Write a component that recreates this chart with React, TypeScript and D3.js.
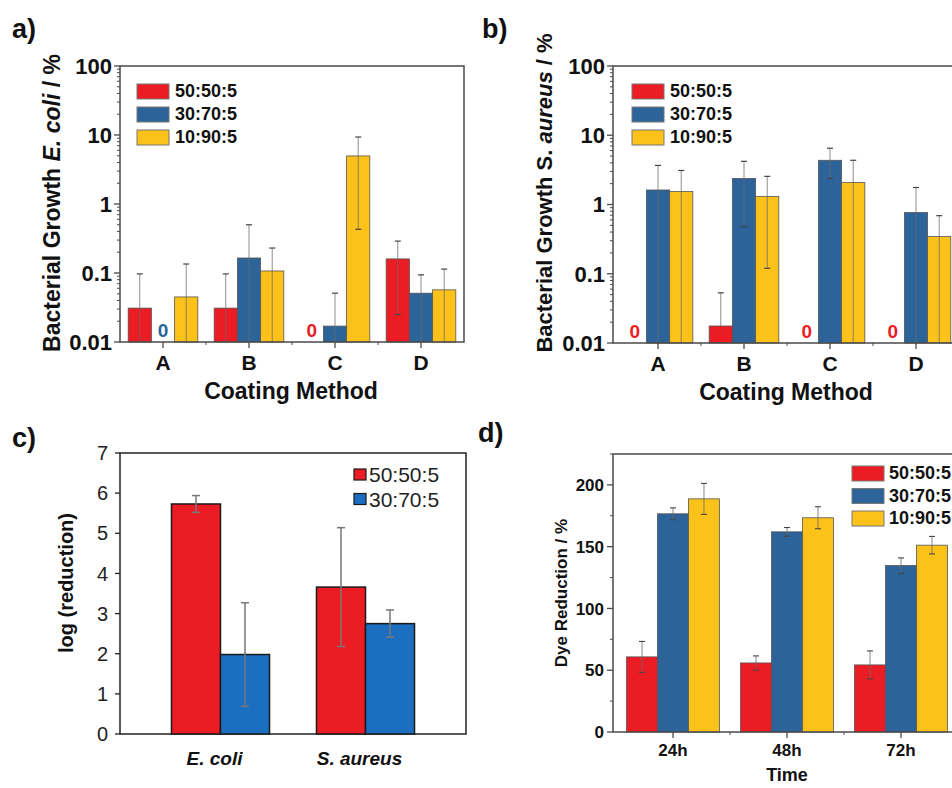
import React from 'react';
import * as d3 from 'd3';

const FONT = "'Liberation Sans', Arial, Helvetica, sans-serif";
const RED = '#EC1C24';
const BLUE = '#2C6399';
const YELLOW = '#FCC21A';
const BLUE_C = '#1C6EC0';
const AXIS = '#4a4a4a';
const ERR = '#6a6a6a';

// ---------- data ----------
const coatingMethods = ['A', 'B', 'C', 'D'];
const ratioLabels = ['50:50:5', '30:70:5', '10:90:5'];
const logTicks = [0.01, 0.1, 1, 10, 100];
const logTickLabels = ['0.01', '0.1', '1', '10', '100'];

// Panel a – E. coli growth (%); 0 = no growth (printed as "0")
const ecoli50 = [0.031, 0.031, 0, 0.16];
const ecoli30 = [0, 0.165, 0.017, 0.051];
const ecoli10 = [0.045, 0.107, 4.97, 0.057];
const ecoli50Hi = [0.097, 0.097, 0, 0.29];
const ecoli50Lo = [0.001, 0.001, 0, 0.025];
const ecoli30Hi = [0, 0.5, 0.051, 0.094];
const ecoli30Lo = [0, 0.001, 0.001, 0.001];
const ecoli10Hi = [0.135, 0.23, 9.35, 0.114];
const ecoli10Lo = [0.001, 0.001, 0.43, 0.001];

// Panel b – S. aureus growth (%)
const saureus50 = [0, 0.0176, 0, 0];
const saureus30 = [1.62, 2.38, 4.35, 0.766];
const saureus10 = [1.54, 1.31, 2.08, 0.344];
const saureus50Hi = [0, 0.053, 0, 0];
const saureus50Lo = [0, 0.0176, 0, 0];
const saureus30Hi = [3.67, 4.2, 6.5, 1.76];
const saureus30Lo = [0.001, 0.48, 2.38, 0.001];
const saureus10Hi = [3.1, 2.55, 4.35, 0.69];
const saureus10Lo = [0.001, 0.12, 0.001, 0.001];

// Panel c – log reduction
const species = ['E. coli', 'S. aureus'];
const logRed50 = [5.73, 3.66];
const logRed30 = [1.98, 2.75];
const logRed50Err = [0.21, 1.48];
const logRed30Err = [1.29, 0.34];
const linTicksC = [0, 1, 2, 3, 4, 5, 6, 7];

// Panel d – dye reduction (%)
const times = ['24h', '48h', '72h'];
const dye50 = [60.8, 55.9, 54.3];
const dye30 = [176.6, 162, 134.7];
const dye10 = [188.7, 173.4, 151.2];
const dye50Err = [12.5, 5.7, 11.3];
const dye30Err = [4.8, 3.5, 6.2];
const dye10Err = [12.5, 8.9, 7.1];
const dyeTicks = [0, 50, 100, 150, 200];
const dyeMinorTicks = [25, 75, 125, 175, 225];

type Series = { name: string; color: string; values: number[]; hi: number[]; lo: number[] };

function LogPanel(props: {
  left: number; right: number; top: number; bottom: number;
  bandRange: [number, number];
  series: Series[];
  legendX: number; legendY: number;
  titleX: number; titleY: number; titleSize: number; titleNodes: React.ReactNode;
  xLabelX: number;
}) {
  const { left, right, top, bottom, bandRange, series } = props;
  const y = d3.scaleLog().domain([0.01, 100]).range([bottom, top]);
  const x = d3.scaleBand<string>().domain(coatingMethods).range(bandRange).padding(0);
  const inner = d3.scaleBand<string>().domain(series.map(s => s.name)).range([0, x.bandwidth() * 0.81]);
  const groupOff = (x.bandwidth() - x.bandwidth() * 0.81) / 2;
  const minor: number[] = [];
  for (let e = -2; e < 2; e++) for (let k = 2; k <= 9; k++) minor.push(k * Math.pow(10, e));
  const bw = inner.bandwidth();
  return (
    <g fontFamily={FONT}>
      {series.map(s => coatingMethods.map((c, i) => {
        const v = s.values[i];
        const bx = (x(c) as number) + groupOff + (inner(s.name) as number);
        if (v <= 0) {
          return (
            <text key={s.name + c} x={bx + bw / 2} y={bottom - 5} textAnchor="middle" fontSize={19} fontWeight="bold" fill={s.color}>0</text>
          );
        }
        return (
          <rect key={s.name + c} x={bx} y={y(v)} width={bw} height={bottom - y(v)} fill={s.color} stroke="#555" strokeWidth={0.8} />
        );
      }))}
      {series.map(s => coatingMethods.map((c, i) => {
        const v = s.values[i];
        if (v <= 0 || s.hi[i] <= 0) return null;
        const cx = (x(c) as number) + groupOff + (inner(s.name) as number) + bw / 2;
        const hiY = y(s.hi[i]);
        const loClip = s.lo[i] < 0.01;
        const loY = loClip ? bottom : y(s.lo[i]);
        return (
          <g key={'e' + s.name + c}>
            <line x1={cx} x2={cx} y1={hiY} y2={loY} stroke={ERR} strokeWidth={1} opacity={0.75} />
            <line x1={cx - 3} x2={cx + 3} y1={hiY} y2={hiY} stroke="#444" strokeWidth={1.2} />
            {!loClip && s.lo[i] < v && <line x1={cx - 3} x2={cx + 3} y1={loY} y2={loY} stroke="#444" strokeWidth={1.2} />}
          </g>
        );
      }))}
      <rect x={left} y={top} width={right - left} height={bottom - top} fill="none" stroke={AXIS} strokeWidth={1.5} />
      {logTicks.map((t, i) => (
        <g key={'yt' + t}>
          <line x1={left - 6} x2={left} y1={y(t)} y2={y(t)} stroke={AXIS} strokeWidth={1.3} />
          <text x={left - 8} y={y(t)} dy="0.36em" textAnchor="end" fontSize={22} fontWeight="bold" fill="#111">{logTickLabels[i]}</text>
        </g>
      ))}
      {minor.map(t => (
        <line key={'ym' + t} x1={left - 3} x2={left} y1={y(t)} y2={y(t)} stroke={AXIS} strokeWidth={1} />
      ))}
      {coatingMethods.map(c => {
        const cx = (x(c) as number) + x.bandwidth() / 2;
        return (
          <g key={'xt' + c}>
            <line x1={cx} x2={cx} y1={bottom} y2={bottom + 6} stroke={AXIS} strokeWidth={1.3} />
            <text x={cx} y={bottom + 28} textAnchor="middle" fontSize={21} fontWeight="bold" fill="#111">{c}</text>
          </g>
        );
      })}
      {coatingMethods.slice(1).map(c => {
        const bx = x(c) as number;
        return <line key={'xm' + c} x1={bx} x2={bx} y1={bottom} y2={bottom + 3} stroke={AXIS} strokeWidth={1} />;
      })}
      <text x={props.xLabelX} y={bottom + 57} textAnchor="middle" fontSize={23} fontWeight="bold" fill="#111">Coating Method</text>
      <text transform={`translate(${props.titleX},${props.titleY}) rotate(-90)`} textAnchor="middle" dy="0.35em" fontSize={props.titleSize} fontWeight="bold" fill="#111">{props.titleNodes}</text>
      {series.map((s, i) => (
        <g key={'lg' + s.name} transform={`translate(${props.legendX},${props.legendY + i * 23})`}>
          <rect x={0} y={0} width={32} height={15} fill={s.color} stroke="#777" strokeWidth={1} />
          <text x={38} y={13} fontSize={18} fontWeight="bold" fill="#111">{s.name}</text>
        </g>
      ))}
    </g>
  );
}

function PanelC() {
  const left = 120, right = 466, top = 453, bottom = 734;
  const y = d3.scaleLinear().domain([0, 7]).range([bottom, top]);
  const x = d3.scaleBand<string>().domain(species).range([left, right]).paddingInner(0.324).paddingOuter(0.355);
  const inner = d3.scaleBand<string>().domain(['50:50:5', '30:70:5']).range([0, x.bandwidth()]);
  const ser = [
    { name: '50:50:5', color: RED, values: logRed50, err: logRed50Err },
    { name: '30:70:5', color: BLUE_C, values: logRed30, err: logRed30Err },
  ];
  return (
    <g fontFamily={FONT}>
      <rect x={left} y={top} width={right - left} height={bottom - top} fill="none" stroke="#222" strokeWidth={1.5} />
      {ser.map(s => species.map((c, i) => {
        const bx = (x(c) as number) + (inner(s.name) as number);
        const v = s.values[i];
        return <rect key={s.name + c} x={bx} y={y(v)} width={inner.bandwidth()} height={bottom - y(v)} fill={s.color} stroke="#1a1a1a" strokeWidth={1.5} />;
      }))}
      {ser.map(s => species.map((c, i) => {
        const cx = (x(c) as number) + (inner(s.name) as number) + inner.bandwidth() / 2;
        const v = s.values[i];
        const hy = y(v + s.err[i]);
        const ly = y(v - s.err[i]);
        return (
          <g key={'e' + s.name + c} stroke="#777" strokeWidth={1.5}>
            <line x1={cx} x2={cx} y1={hy} y2={ly} />
            <line x1={cx - 4} x2={cx + 4} y1={hy} y2={hy} />
            <line x1={cx - 4} x2={cx + 4} y1={ly} y2={ly} />
          </g>
        );
      }))}
      {linTicksC.map(t => (
        <g key={'t' + t}>
          <line x1={left - 5} x2={left} y1={y(t)} y2={y(t)} stroke="#222" strokeWidth={1.3} />
          <text x={108} y={y(t)} dy="0.36em" textAnchor="end" fontSize={20} fill="#222">{t}</text>
        </g>
      ))}
      {species.map(c => (
        <text key={'xl' + c} x={(x(c) as number) + x.bandwidth() / 2 - 6} y={765} textAnchor="middle" fontSize={19} fontWeight="bold" fontStyle="italic" fill="#111">{c}</text>
      ))}
      <text transform="translate(66,583) rotate(-90)" textAnchor="middle" dy="0.35em" fontSize={20} fontWeight="bold" fill="#111">log (reduction)</text>
      {ser.map((s, i) => (
        <g key={'lg' + s.name} transform={`translate(354,${469 + i * 24.5})`}>
          <rect x={0} y={0} width={12} height={11} fill={s.color} stroke="#1a1a1a" strokeWidth={1.2} />
          <text x={15} y={13} fontSize={21} fill="#222">{s.name}</text>
        </g>
      ))}
    </g>
  );
}

function PanelD() {
  const left = 613, right = 958, top = 454, bottom = 732;
  const y = d3.scaleLinear().domain([0, 225]).range([bottom, top]);
  const x = d3.scaleBand<string>().domain(times).range([616, 958]).padding(0);
  const gw = x.bandwidth() * 0.815;
  const off = (x.bandwidth() - gw) / 2;
  const inner = d3.scaleBand<string>().domain(ratioLabels).range([0, gw]);
  const ser = [
    { name: ratioLabels[0], color: RED, values: dye50, err: dye50Err },
    { name: ratioLabels[1], color: BLUE, values: dye30, err: dye30Err },
    { name: ratioLabels[2], color: YELLOW, values: dye10, err: dye10Err },
  ];
  return (
    <g fontFamily={FONT}>
      {ser.map(s => times.map((c, i) => {
        const bx = (x(c) as number) + off + (inner(s.name) as number);
        const v = s.values[i];
        return <rect key={s.name + c} x={bx} y={y(v)} width={inner.bandwidth()} height={bottom - y(v)} fill={s.color} stroke="#555" strokeWidth={0.8} />;
      }))}
      {ser.map(s => times.map((c, i) => {
        const cx = (x(c) as number) + off + (inner(s.name) as number) + inner.bandwidth() / 2;
        const v = s.values[i];
        const hy = y(v + s.err[i]);
        const ly = y(v - s.err[i]);
        return (
          <g key={'e' + s.name + c}>
            <line x1={cx} x2={cx} y1={hy} y2={ly} stroke={ERR} strokeWidth={1} opacity={0.8} />
            <line x1={cx - 3} x2={cx + 3} y1={hy} y2={hy} stroke="#444" strokeWidth={1.1} />
            <line x1={cx - 3} x2={cx + 3} y1={ly} y2={ly} stroke="#444" strokeWidth={1.1} />
          </g>
        );
      }))}
      <rect x={left} y={top} width={right - left} height={bottom - top} fill="none" stroke={AXIS} strokeWidth={1.5} />
      {dyeTicks.map(t => (
        <g key={'t' + t}>
          <line x1={left - 6} x2={left} y1={y(t)} y2={y(t)} stroke={AXIS} strokeWidth={1.3} />
          <text x={604} y={y(t)} dy="0.36em" textAnchor="end" fontSize={17} fontWeight="bold" fill="#111">{t}</text>
        </g>
      ))}
      {dyeMinorTicks.map(t => (
        <line key={'m' + t} x1={left - 3} x2={left} y1={y(t)} y2={y(t)} stroke={AXIS} strokeWidth={1} />
      ))}
      {times.map(c => {
        const cx = (x(c) as number) + x.bandwidth() / 2;
        return (
          <g key={'xt' + c}>
            <line x1={cx} x2={cx} y1={bottom} y2={bottom + 6} stroke={AXIS} strokeWidth={1.3} />
            <text x={cx} y={756} textAnchor="middle" fontSize={17} fontWeight="bold" fill="#111">{c}</text>
          </g>
        );
      })}
      {times.slice(1).map(c => {
        const bx = x(c) as number;
        return <line key={'xm' + c} x1={bx} x2={bx} y1={bottom} y2={bottom + 3} stroke={AXIS} strokeWidth={1} />;
      })}
      <text x={787} y={781} textAnchor="middle" fontSize={18} fontWeight="bold" fill="#111">Time</text>
      <text transform="translate(561,593) rotate(-90)" textAnchor="middle" dy="0.35em" fontSize={17} fontWeight="bold" fill="#111">Dye Reduction / %</text>
      {ser.map((s, i) => (
        <g key={'lg' + s.name} transform={`translate(852,${466 + i * 22.5})`}>
          <rect x={0} y={0} width={32} height={15} fill={s.color} stroke="#777" strokeWidth={1} />
          <text x={37} y={13} fontSize={18} fontWeight="bold" fill="#111">{s.name}</text>
        </g>
      ))}
    </g>
  );
}

export default function App() {
  const seriesA: Series[] = [
    { name: ratioLabels[0], color: RED, values: ecoli50, hi: ecoli50Hi, lo: ecoli50Lo },
    { name: ratioLabels[1], color: BLUE, values: ecoli30, hi: ecoli30Hi, lo: ecoli30Lo },
    { name: ratioLabels[2], color: YELLOW, values: ecoli10, hi: ecoli10Hi, lo: ecoli10Lo },
  ];
  const seriesB: Series[] = [
    { name: ratioLabels[0], color: RED, values: saureus50, hi: saureus50Hi, lo: saureus50Lo },
    { name: ratioLabels[1], color: BLUE, values: saureus30, hi: saureus30Hi, lo: saureus30Lo },
    { name: ratioLabels[2], color: YELLOW, values: saureus10, hi: saureus10Hi, lo: saureus10Lo },
  ];
  return (
    <svg width={952} height={788} style={{ position: 'absolute', left: 0, top: 0, background: '#fff' }}>
      <rect x={0} y={0} width={952} height={788} fill="#fff" />
      <LogPanel left={120} right={464} top={66} bottom={342} bandRange={[120, 464]} series={seriesA}
        legendX={137} legendY={84} titleX={52} titleY={203} titleSize={23} xLabelX={291}
        titleNodes={<>Bacterial Growth <tspan fontStyle="italic">E. coli</tspan> / %</>} />
      <LogPanel left={613} right={957} top={66} bottom={343} bandRange={[615, 959]} series={seriesB}
        legendX={632} legendY={84} titleX={544} titleY={193} titleSize={22} xLabelX={786}
        titleNodes={<>Bacterial Growth S. <tspan fontStyle="italic">aureus</tspan> / %</>} />
      <PanelC />
      <PanelD />
      <g fontFamily={FONT} fontWeight="bold" fontSize={27} fill="#111">
        <text x={12} y={38}>a)</text>
        <text x={482} y={38}>b)</text>
        <text x={12} y={447}>c)</text>
        <text x={478} y={442}>d)</text>
      </g>
    </svg>
  );
}
